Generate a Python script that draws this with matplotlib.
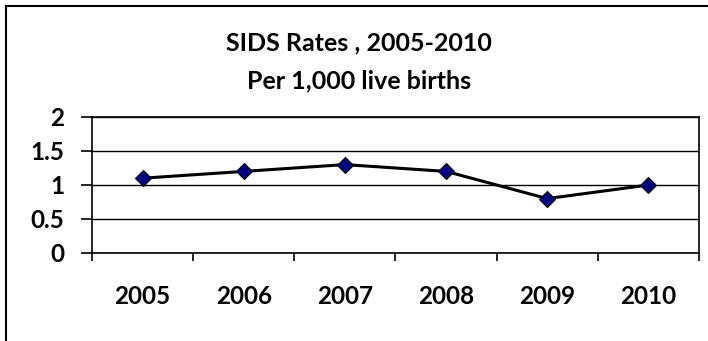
import numpy as np
import matplotlib.pyplot as plt
from matplotlib.patches import Rectangle

years = ['2005', '2006', '2007', '2008', '2009', '2010']
rates = [1.1, 1.2, 1.3, 1.2, 0.8, 1.0]
y_ticks = [0, 0.5, 1, 1.5, 2]
y_labels = ['0', '0.5', '1', '1.5', '2']

plt.rcParams['font.family'] = ['Lato', 'DejaVu Sans']
plt.rcParams['font.weight'] = 'bold'

fig = plt.figure(figsize=(7.08, 3.41), dpi=100)
# outer chart frame (cut off at right and bottom like the source)
fig.patches.append(Rectangle((6 / 708, -0.1), 1.2, 1 - 6 / 341 + 0.1,
                             transform=fig.transFigure, fill=False,
                             edgecolor='black', lw=1.5))

ax = fig.add_axes([92 / 708, 1 - 253 / 341, (699 - 92) / 708, (253 - 117) / 341])
x = np.arange(len(years))
ax.plot(x, rates, color='black', lw=2.2, marker='D', markersize=8,
        markerfacecolor='#000080', markeredgecolor='black', markeredgewidth=0.8,
        zorder=3)

ax.set_xlim(-0.5, len(years) - 0.5)
ax.set_ylim(0, 2)
ax.set_yticks(y_ticks)
ax.set_yticklabels(y_labels)
ax.grid(axis='y', color='black', lw=1)

ax.set_xticks(np.arange(-0.5, len(years)))
ax.set_xticklabels([])
ax.set_xticks(x, minor=True)
ax.set_xticklabels(years, minor=True)
ax.tick_params(axis='x', which='major', length=6, width=1.2, direction='out')
ax.tick_params(axis='x', which='minor', length=0, pad=23, labelsize=17.5)
ax.tick_params(axis='y', length=8, width=1.2, pad=12, labelsize=17.5)
for s in ax.spines.values():
    s.set_linewidth(1.2)

fig.text(359 / 708, 1 - 50 / 341, 'SIDS Rates , 2005-2010', ha='center', va='baseline',
         fontsize=18, fontweight='bold')
fig.text(359 / 708, 1 - 88 / 341, 'Per 1,000 live births', ha='center', va='baseline',
         fontsize=18, fontweight='bold')

fig.savefig('out.png', dpi=100)
